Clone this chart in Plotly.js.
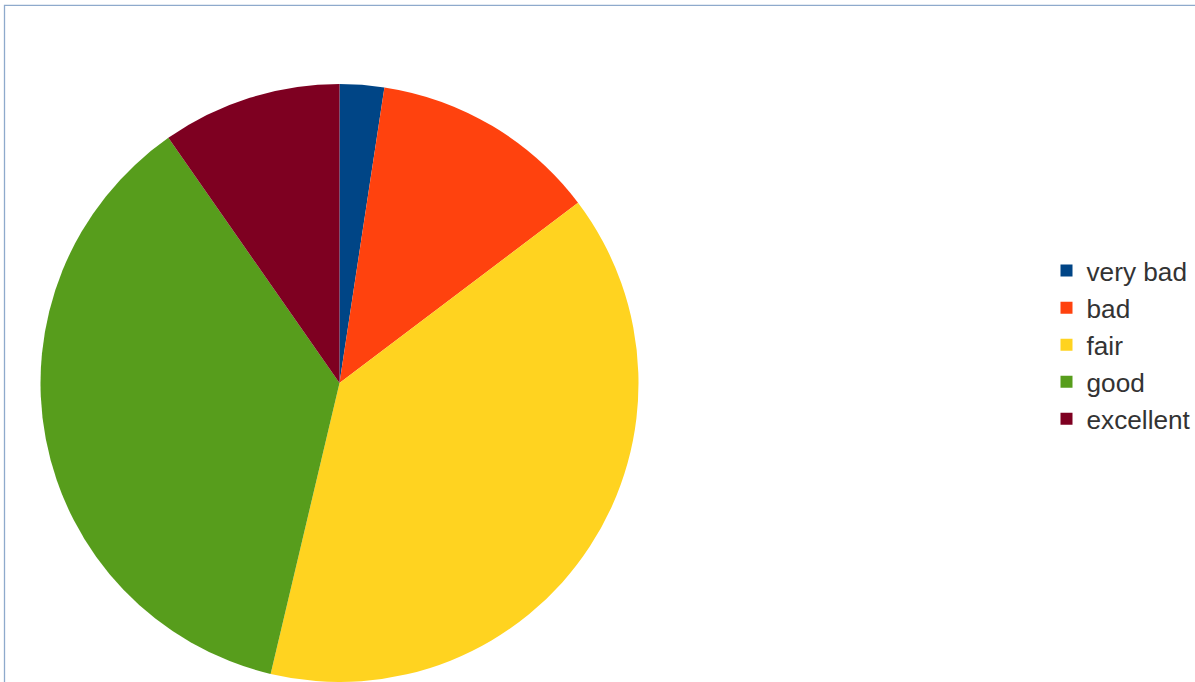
<!DOCTYPE html>
<html>
<head>
<meta charset="utf-8">
<script src="https://cdn.plot.ly/plotly-3.0.1.min.js"></script>
<style>html,body{margin:0;padding:0;background:#fff;overflow:hidden;}#wrap{width:1195px;height:682px;overflow:hidden;}#chart{width:1225px;height:682px;}</style>
</head>
<body>
<div id="wrap"><div id="chart"></div></div>
<script>
const categories = ["very bad", "bad", "fair", "good", "excellent"];
const values = [2.4, 12.3, 39.0, 36.6, 9.7];
const colors = ["#004586", "#ff420e", "#ffd320", "#579d1c", "#7e0021"];

const W = 1225, H = 682;
const trace = {
  type: "pie",
  labels: categories,
  values: values,
  sort: false,
  direction: "clockwise",
  rotation: 0,
  textinfo: "none",
  hoverinfo: "label+value",
  marker: {colors: colors, line: {width: 0}},
  domain: {x: [40.5 / W, 638.5 / W], y: [0, 598 / H]}
};
const layout = {
  width: W, height: H,
  margin: {l: 0, r: 0, t: 0, b: 0},
  paper_bgcolor: "#ffffff",
  showlegend: true,
  legend: {
    x: 1046.5 / W, xanchor: "left",
    y: 0.494, yanchor: "middle",
    font: {family: "Liberation Sans, Arial, sans-serif", size: 26.2, color: "#333333"},
    bgcolor: "rgba(0,0,0,0)",
    traceorder: "normal"
  },
  shapes: [{
    type: "rect", xref: "paper", yref: "paper",
    x0: 4.5 / W, x1: 1.02, y0: -0.02, y1: (H - 5.3) / H,
    line: {color: "#8eaacc", width: 1.3}, fillcolor: "rgba(0,0,0,0)", layer: "below"
  }]
};
Plotly.newPlot("chart", [trace], layout, {displayModeBar: false, staticPlot: true});
</script>
</body>
</html>
